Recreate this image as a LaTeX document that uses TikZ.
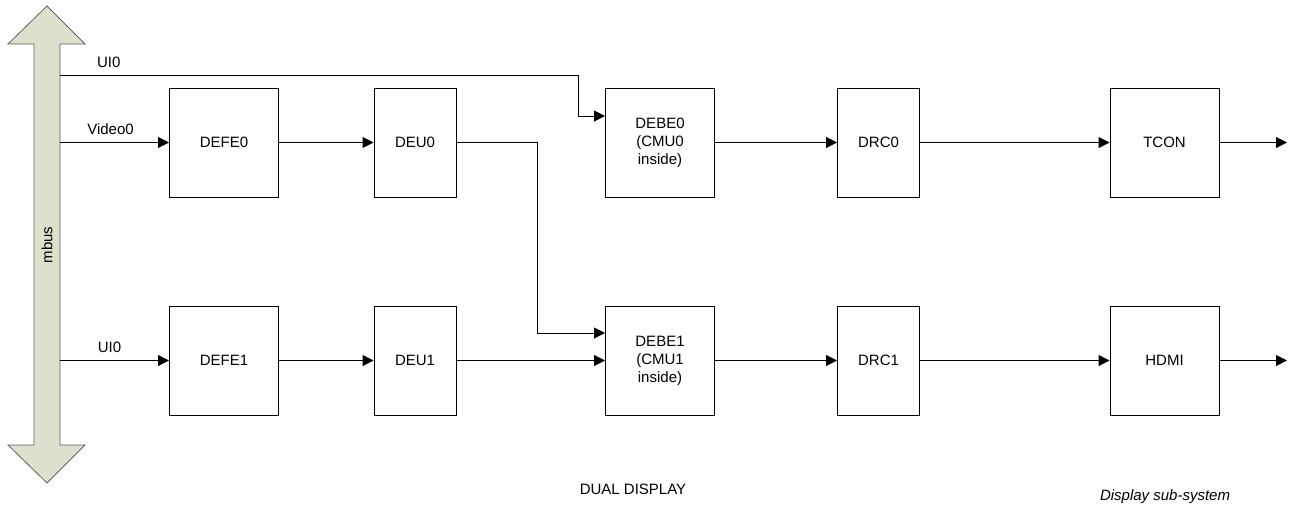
\documentclass[tikz,border=0pt]{standalone}
\usepackage{fontspec}
\setmainfont{Liberation Sans}
\usetikzlibrary{arrows.meta,calc}

\definecolor{busfill}{RGB}{221,224,204}
\definecolor{busline}{RGB}{95,95,95}

\begin{document}
\begin{tikzpicture}[x=1pt, y=-1pt,
		font=\fontsize{15}{18}\selectfont,
		block/.style={draw, line width=1pt, minimum width=109pt, minimum height=109pt, inner sep=0pt, align=center},
		narrow/.style={block, minimum width=82pt},
		flow/.style={line width=1pt, -{Triangle[length=11pt, width=11pt]}},
		lbl/.style={inner sep=2pt, above=5pt}]
		\useasboundingbox (0, 0) rectangle (1297, 507);
		% the mbus double arrow
		\filldraw [fill=busfill, draw=busline, line width=0.8pt] (47, 6) -- (85, 44) -- (60, 44) -- (60, 445) -- (85, 445) -- (47, 483) -- (8, 445) -- (34, 445) -- (34, 44) -- (8, 44) -- cycle;
		\node [rotate=90] (mbus) at (47, 245) {mbus};
		\coordinate (ui0in) at (60, 75);
		\coordinate (vidin) at (60, 142.5);
		\coordinate (ui1in) at (60, 360.5);
		% display 0
		\node [block] (defe0) at (224, 142.5) {DEFE0};
		\node [narrow] (deu0) at (415, 142.5) {DEU0};
		\node [block] (debe0) at (660, 142.5) {DEBE0\\(CMU0\\inside)};
		\node [narrow] (drc0) at (878.5, 142.5) {DRC0};
		\node [block] (tcon) at (1164.5, 142.5) {TCON};
		\coordinate (out0) at (1287, 142.5);
		% display 1
		\node [block] (defe1) at (224, 360.5) {DEFE1};
		\node [narrow] (deu1) at (415, 360.5) {DEU1};
		\node [block] (debe1) at (660, 360.5) {DEBE1\\(CMU1\\inside)};
		\node [narrow] (drc1) at (878.5, 360.5) {DRC1};
		\node [block] (hdmi) at (1164.5, 360.5) {HDMI};
		\coordinate (out1) at (1287, 360.5);
		% corners of the routed lines
		\coordinate (ui0turn) at (578, 116);
		\coordinate (deuturn) at (537.5, 333);
		% connections
		\draw [flow] (ui0in) -| node [lbl, pos=0.047] (ui0lbl) {UI0} (ui0turn) -- (ui0turn -| debe0.west);
		\draw [flow] (vidin) -- node [lbl, xshift=-4pt] (vidlbl) {Video0} (defe0);
		\draw [flow] (defe0) -- (deu0);
		\draw [flow] (deu0.east) -| (deuturn) -- (deuturn -| debe1.west);
		\draw [flow] (debe0) -- (drc0);
		\draw [flow] (drc0) -- (tcon);
		\draw [flow] (tcon) -- (out0);
		\draw [flow] (ui1in) -- node [lbl, xshift=-5pt] (ui1lbl) {UI0} (defe1);
		\draw [flow] (defe1) -- (deu1);
		\draw [flow] (deu1) -- (debe1);
		\draw [flow] (debe1) -- (drc1);
		\draw [flow] (drc1) -- (hdmi);
		\draw [flow] (hdmi) -- (out1);
		% captions
		\node (title) at (633, 489) {DUAL DISPLAY};
		\node [font=\fontsize{15}{18}\selectfont\itshape] (subsys) at (1165, 497) {Display sub-system};
	\end{tikzpicture}
\end{document}
